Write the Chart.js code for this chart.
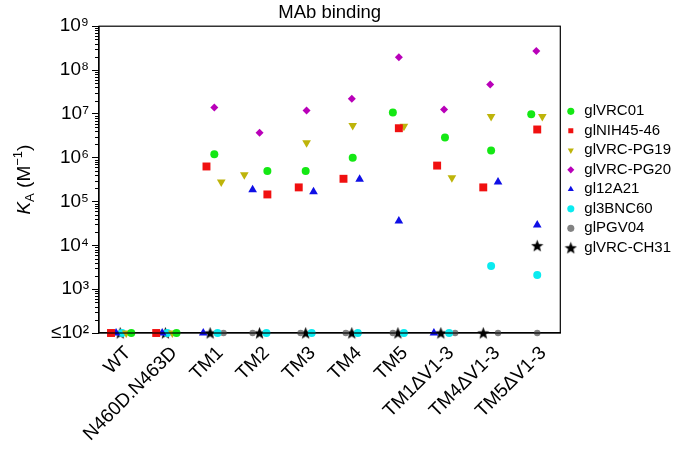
<!DOCTYPE html>
<html lang="en">
<head>
<meta charset="UTF-8">
<title>MAb binding</title>
<script src="https://cdn.jsdelivr.net/npm/chart.js@4"></script>
<style>
  html, body { margin: 0; padding: 0; background: #fff; }
</style>
</head>
<body>
<canvas id="bindingChart" width="685" height="449"></canvas>
<script>
// categories on the x axis
const categories = ['WT', 'N460D.N463D', 'TM1', 'TM2', 'TM3', 'TM4', 'TM5', 'TM1\u0394V1-3', 'TM4\u0394V1-3', 'TM5\u0394V1-3'];

// K_A values (M^-1), 100 = at / below detection (the "≤10²" line), null = no point
const glVRC01   = [100, 100, 1.2e6, 5e5, 5e5, 1e6, 1.07e7, 2.9e6, 1.45e6, 9.8e6];
const glNIH4546 = [100, 100, 6.3e5, 1.45e5, 2.1e5, 3.3e5, 4.7e6, 6.6e5, 2.1e5, 4.4e6];
const glVRCPG19 = [100, 100, 2.8e5, 4.1e5, 2.2e6, 5.4e6, 5.2e6, 3.5e5, 8.7e6, 8.7e6];
const glVRCPG20 = [null, null, 1.4e7, 3.7e6, 1.2e7, 2.2e7, 1.95e8, 1.26e7, 4.7e7, 2.7e8];
const gl12A21   = [100, 100, 100, 1.86e5, 1.66e5, 3.2e5, 3.6e4, 100, 2.8e5, 2.9e4];
const gl3BNC60  = [100, 100, 100, 100, 100, 100, 100, 100, 3.4e3, 2.1e3];
const glPGV04   = [null, null, 100, 100, 100, 100, 100, 100, 100, 100];
const glVRCCH31 = [100, 100, 100, 100, 100, 100, 100, 100, 100, 9.8e3];

// sideways dodge of each point inside its group (in category units)
const dodgeVRC01   = [0.2, 0.18, 0, 0.15, -0.02, 0, -0.13, 0, 0, -0.13];
const dodgeNIH4546 = [-0.24, -0.26, -0.17, 0.15, -0.17, -0.2, 0, -0.17, -0.17, 0];
const dodgeVRCPG19 = [0.09, 0.09, 0.15, -0.35, 0, 0, 0.11, 0.15, 0, 0.11];
const dodgeVRCPG20 = [0, 0, 0, -0.02, 0, -0.02, 0, -0.02, -0.02, -0.02];
const dodge12A21   = [-0.13, -0.13, -0.24, -0.17, 0.15, 0.15, 0, -0.24, 0.15, 0];
const dodge3BNC60  = [0, -0.02, 0.07, 0.13, 0.11, 0.11, 0.11, 0.09, 0, 0];
const dodgePGV04   = [0, 0, 0.2, -0.17, -0.13, -0.15, -0.13, 0.22, 0.15, 0];
const dodgeVRCCH31 = [-0.04, -0.06, -0.09, -0.02, -0.02, -0.02, -0.02, -0.09, -0.17, 0];

// filled five point star marker
function makeStar(size) {
    const c = document.createElement('canvas');
    c.width = size; c.height = size;
    const g = c.getContext('2d');
    const cx = size / 2, cy = size / 2 + 0.5, R = size / 2, r = R * 0.42;
    g.beginPath();
    for (let i = 0; i < 10; i++) {
        const rad = i % 2 === 0 ? R : r;
        const a = -Math.PI / 2 + i * Math.PI / 5;
        g.lineTo(cx + rad * Math.cos(a), cy + rad * Math.sin(a));
    }
    g.closePath();
    g.fillStyle = '#000';
    g.fill();
    return c;
}
const starMarker = makeStar(13);

function points(values, dodge) {
    const out = [];
    values.forEach((v, i) => {
        if (v !== null) out.push({ x: i + dodge[i], y: v });
    });
    return out;
}

function series(label, values, dodge, color, style, radius, rotation) {
    return {
        label: label,
        data: points(values, dodge),
        backgroundColor: color,
        borderColor: color,
        borderWidth: 0,
        pointStyle: style,
        pointRadius: radius,
        pointRotation: rotation || 0,
        clip: false
    };
}

// box around the plot and short minor ticks on the y axis
const framePlugin = {
    id: 'frame',
    afterDraw(chart) {
        const { ctx, chartArea } = chart;
        const y = chart.scales.y;
        ctx.save();
        ctx.strokeStyle = '#000';
        ctx.lineWidth = 1.2;
        ctx.strokeRect(chartArea.left, chartArea.top, chartArea.right - chartArea.left, chartArea.bottom - chartArea.top);
        ctx.lineWidth = 1;
        y.ticks.forEach(t => {
            if (t.major) return;
            const py = Math.round(y.getPixelForValue(t.value)) + 0.5;
            ctx.beginPath();
            ctx.moveTo(chartArea.left - 4, py);
            ctx.lineTo(chartArea.left, py);
            ctx.stroke();
        });
        ctx.restore();
    }
};

// y axis title: italic K, subscript A, (M^-1)
const yTitlePlugin = {
    id: 'yTitle',
    afterDraw(chart) {
        const { ctx, chartArea } = chart;
        const parts = [
            { t: 'K', font: 'italic 19px "Liberation Sans", Arial, sans-serif', dy: 0 },
            { t: 'A', font: '13px "Liberation Sans", Arial, sans-serif', dy: 4 },
            { t: ' (M', font: '19px "Liberation Sans", Arial, sans-serif', dy: 0 },
            { t: '\u22121', font: '13px "Liberation Sans", Arial, sans-serif', dy: -8 },
            { t: ')', font: '19px "Liberation Sans", Arial, sans-serif', dy: 0 }
        ];
        ctx.save();
        let total = 0;
        parts.forEach(p => { ctx.font = p.font; p.w = ctx.measureText(p.t).width; total += p.w; });
        ctx.translate(30, (chartArea.top + chartArea.bottom) / 2);
        ctx.rotate(-Math.PI / 2);
        ctx.fillStyle = '#000';
        ctx.textBaseline = 'alphabetic';
        let x = -total / 2;
        parts.forEach(p => {
            ctx.font = p.font;
            ctx.fillText(p.t, x, p.dy);
            x += p.w;
        });
        ctx.restore();
    }
};

function isPow10(v) {
    const e = Math.round(Math.log10(v));
    return Math.abs(Math.pow(10, e) - v) < v * 1e-9 ? e : null;
}
const supers = { 2: '\u00b2', 3: '\u00b3', 4: '\u2074', 5: '\u2075', 6: '\u2076', 7: '\u2077', 8: '\u2078', 9: '\u2079' };

const chart = new Chart(document.getElementById('bindingChart'), {
    type: 'scatter',
    data: {
        datasets: [
            series('glVRC01', glVRC01, dodgeVRC01, 'rgb(20,232,20)', 'circle', 4),
            series('glNIH45-46', glNIH4546, dodgeNIH4546, 'rgb(240,16,16)', 'rect', 5.6),
            series('glVRC-PG19', glVRCPG19, dodgeVRCPG19, 'rgb(190,180,10)', 'triangle', 5, 180),
            series('glVRC-PG20', glVRCPG20, dodgeVRCPG20, 'rgb(185,0,185)', 'rectRot', 4),
            series('gl12A21', gl12A21, dodge12A21, 'rgb(15,15,230)', 'triangle', 5),
            series('gl3BNC60', gl3BNC60, dodge3BNC60, 'rgb(10,235,240)', 'circle', 4),
            series('glPGV04', glPGV04, dodgePGV04, 'rgb(130,130,130)', 'circle', 3.2),
            series('glVRC-CH31', glVRCCH31, dodgeVRCCH31, '#000', starMarker, 6)
        ]
    },
    options: {
        responsive: false,
        animation: false,
        devicePixelRatio: 1,
        layout: { padding: { left: 0, right: 4, top: 0, bottom: 0 } },
        font: { family: '"Liberation Sans", Arial, sans-serif' },
        plugins: {
            title: {
                display: true,
                text: 'MAb binding',
                fullSize: false,
                color: '#000',
                font: { size: 18.5, weight: 'normal' },
                padding: { top: 2, bottom: 2 }
            },
            legend: {
                position: 'right',
                fullSize: false,
                labels: {
                    usePointStyle: true,
                    boxWidth: 12,
                    boxHeight: 5,
                    color: '#000',
                    padding: 4.5,
                    font: { size: 15 }
                }
            },
            tooltip: { enabled: false }
        },
        scales: {
            x: {
                type: 'linear',
                min: -0.5,
                max: 9.5,
                afterBuildTicks: s => { s.ticks = categories.map((c, i) => ({ value: i })); },
                afterFit: s => { s.height = 116; },
                ticks: {
                    autoSkip: false,
                    maxRotation: 45,
                    minRotation: 45,
                    color: '#000',
                    padding: 1,
                    labelOffset: 6,
                    font: { size: 19 },
                    callback: v => categories[v]
                },
                grid: { display: false },
                border: { display: true, color: '#000', width: 1.2 }
            },
            y: {
                type: 'logarithmic',
                min: 100,
                max: 1e9,
                afterBuildTicks: s => {
                    const t = [];
                    for (let e = 2; e <= 9; e++) {
                        for (let m = 1; m <= 9; m++) {
                            const v = m * Math.pow(10, e);
                            if (v <= 1e9) t.push({ value: v, major: m === 1 });
                        }
                    }
                    s.ticks = t;
                },
                afterFit: s => { s.width = 99; },
                ticks: {
                    autoSkip: false,
                    color: '#000',
                    padding: 3,
                    font: { size: 19 },
                    callback: v => {
                        const e = isPow10(v);
                        if (e === null) return '';
                        return (e === 2 ? '\u226410' : '10') + supers[e];
                    }
                },
                grid: {
                    drawOnChartArea: false,
                    drawTicks: true,
                    tickLength: 7,
                    tickColor: c => (c.tick && c.tick.major ? '#000' : 'rgba(0,0,0,0)')
                },
                border: { display: true, color: '#000', width: 1.2 }
            }
        }
    },
    plugins: [framePlugin, yTitlePlugin]
});
</script>
</body>
</html>
